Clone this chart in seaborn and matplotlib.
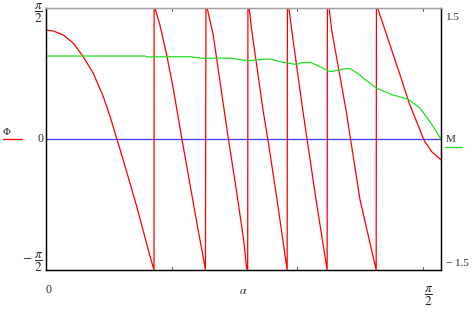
import numpy as np
import matplotlib
matplotlib.use("Agg")
import matplotlib.pyplot as plt
import seaborn as sns

# ---- data ----
alpha_phi = [0.000, 0.029, 0.069, 0.109, 0.148, 0.188, 0.228, 0.255, 0.281, 0.307,
             0.334, 0.361, 0.387, 0.414, 0.4295,
             0.4300, 0.4335, 0.453, 0.480, 0.506, 0.540, 0.573, 0.599, 0.626, 0.634,
             0.636, 0.641, 0.665, 0.692, 0.725, 0.758, 0.785, 0.798, 0.802,
             0.803, 0.808, 0.818, 0.863, 0.882, 0.919, 0.959,
             0.960, 0.966, 0.977, 1.021, 1.038, 1.074, 1.118,
             1.119, 1.126, 1.136, 1.193, 1.211, 1.249, 1.313,
             1.314, 1.320, 1.408, 1.444, 1.503, 1.535, 1.5708]
phi = [1.307, 1.295, 1.247, 1.148, 0.987, 0.788, 0.507, 0.267, 0.008, -0.252,
       -0.531, -0.812, -1.105, -1.411, -1.5708,
       1.5708, 1.567, 1.367, 1.007, 0.608, 0.008, -0.552, -0.992, -1.431, -1.5708,
       1.5708, 1.567, 1.247, 0.687, 0.008, -0.632, -1.191, -1.547, -1.5708,
       1.5708, 1.567, 1.307, 0.348, 0.0, -0.731, -1.5708,
       1.5708, 1.567, 1.307, 0.348, 0.0, -0.731, -1.5708,
       1.5708, 1.567, 1.307, 0.348, 0.0, -0.731, -1.5708,
       1.5708, 1.560, 0.767, 0.432, -0.012, -0.156, -0.25]

alpha_m = [0.000, 0.394, 0.398, 0.493, 0.573, 0.624, 0.732, 0.798, 0.811, 0.863,
           0.891, 0.931, 0.982, 0.997, 1.017, 1.050, 1.090, 1.129, 1.169, 1.181,
           1.209, 1.249, 1.261, 1.315, 1.380, 1.440, 1.487, 1.527, 1.5708]
m_vals = [0.950, 0.950, 0.939, 0.942, 0.942, 0.924, 0.927, 0.897, 0.897, 0.913,
          0.916, 0.885, 0.859, 0.855, 0.874, 0.878, 0.828, 0.771, 0.790, 0.802,
          0.805, 0.733, 0.698, 0.581, 0.504, 0.455, 0.355, 0.198, 0.0]

zero_x = [0.0, np.pi / 2]
zero_y = [0.0, 0.0]

left_ticks = [np.pi / 2, 0.0, -np.pi / 2]
left_labels = [r'$\dfrac{\pi}{2}$', '0', r'$-\ \dfrac{\pi}{2}$']
right_ticks = [1.5, -1.5]
right_labels = ['1.5', '\u2212 1.5']
x_ticks = [0.0, np.pi / 2]
x_labels = ['0', r'$\dfrac{\pi}{2}$']
minor_x = [0.5, 1.0, 1.5]

# ---- style ----
sns.set_style("white")
plt.rcParams['font.family'] = ['Liberation Serif', 'DejaVu Serif']
plt.rcParams['mathtext.fontset'] = 'stix'

W, H = 474, 312
fig = plt.figure(figsize=(W / 100, H / 100), dpi=100)
L, R, T, B = 46, 441, 8, 270
ax = fig.add_axes([L / W, 1 - B / H, (R - L) / W, (B - T) / H])
ax2 = ax.twinx()

red = '#ff0000'
green = '#22dd22'
blue = '#3a3aff'

sns.lineplot(x=zero_x, y=zero_y, ax=ax, color=blue, lw=0.9, estimator=None, sort=False)
sns.lineplot(x=alpha_phi, y=phi, ax=ax, color=red, lw=0.9, estimator=None, sort=False)
sns.lineplot(x=alpha_m, y=m_vals, ax=ax2, color=green, lw=0.9, estimator=None, sort=False)

ax.set_xlim(0, np.pi / 2)
ax.set_ylim(-np.pi / 2, np.pi / 2)
ax2.set_ylim(-1.5, 1.5)
for a in (ax, ax2):
    a.set_xticks([])
    a.set_yticks([])
    a.set_xlabel('')
    a.set_ylabel('')
    for s in a.spines.values():
        s.set_color('black')
        s.set_linewidth(0.9)
    a.spines['top'].set_color('#a0a0a0')

fs = 8.5
ffs = 9.5  # fraction labels
# left tick labels
offs_left = [-5, 0, 8]
sizes_left = [ffs, fs, ffs]
for v, lab, dy, sz in zip(left_ticks, left_labels, offs_left, sizes_left):
    ax.annotate(lab, xy=(0, v), xycoords=('axes fraction', 'data'),
                xytext=(-3, dy), textcoords='offset pixels',
                ha='right', va='center', fontsize=sz)
# right tick labels
offs_right = [-10, 7]
for v, lab, dy in zip(right_ticks, right_labels, offs_right):
    ax2.annotate(lab, xy=(1, v), xycoords=('axes fraction', 'data'),
                 xytext=(5, dy), textcoords='offset pixels',
                 ha='left', va='center', fontsize=fs - 0.5)
# x tick labels
offs_x = [(3, -20), (-12, -26)]
sizes_x = [fs, ffs]
for v, lab, (dx, dy), sz in zip(x_ticks, x_labels, offs_x, sizes_x):
    ax.annotate(lab, xy=(v, 0), xycoords=('data', 'axes fraction'),
                xytext=(dx, dy), textcoords='offset pixels',
                ha='center', va='center', fontsize=sz)
# minor ticks inward top & bottom
for v in minor_x:
    for yb, yt in ((0, 0.012), (0.988, 1.0)):
        ax.plot([v, v], [yb, yt], transform=ax.get_xaxis_transform(),
                color='#555555', lw=0.7, clip_on=False)

# axis names with legend strokes
fig.text(243 / W, 1 - 291 / H, r'$\alpha$', ha='center', va='center', fontsize=fs)
fig.text(7 / W, 1 - 131 / H, r'$\Phi$', ha='center', va='center', fontsize=fs - 1)
fig.add_artist(plt.Line2D([3 / W, 22 / W], [1 - 138.5 / H, 1 - 138.5 / H], color=red, lw=0.9))
fig.text(446 / W, 1 - 140 / H, 'M', ha='left', va='center', fontsize=fs - 0.5)
fig.add_artist(plt.Line2D([445 / W, 462 / W], [1 - 146.5 / H, 1 - 146.5 / H], color=green, lw=0.9))

fig.savefig('out.png', dpi=100)
